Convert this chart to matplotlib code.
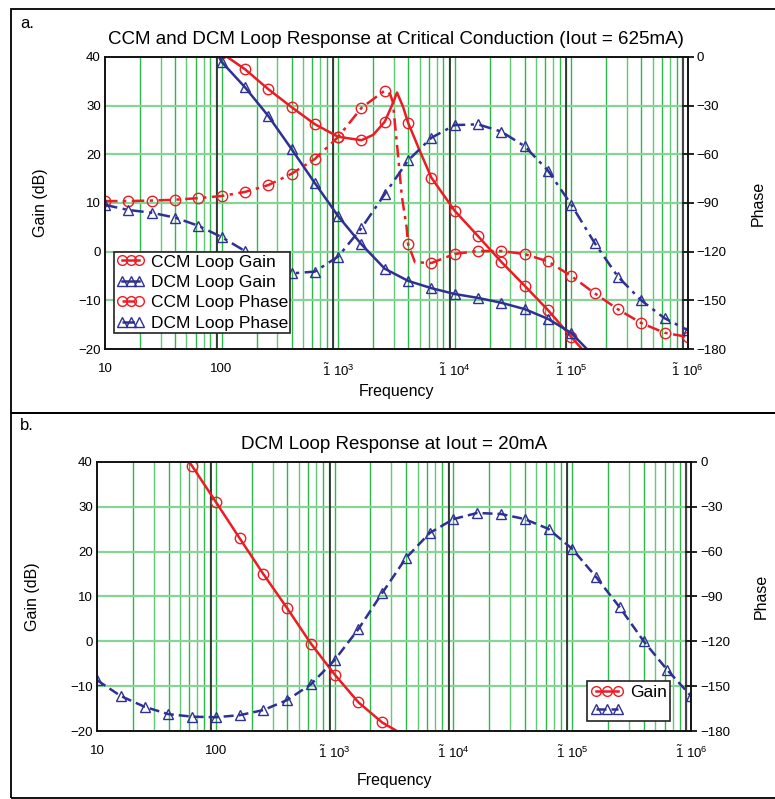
import matplotlib
matplotlib.use("Agg")
import matplotlib.pyplot as plt
from matplotlib.lines import Line2D
from matplotlib.patches import Rectangle
import numpy as np

plt.rcParams['font.family'] = ['Liberation Sans', 'DejaVu Sans']
plt.rcParams['mathtext.fontset'] = 'custom'
plt.rcParams['mathtext.rm'] = 'Liberation Sans'
plt.rcParams['mathtext.it'] = 'Liberation Sans'

# ---- panel a: CCM and DCM at critical conduction ----
ccm_gain_f = [100, 158.5, 251.2, 398.1, 631, 1000, 1585, 2000, 2512, 2950, 3200, 3600, 3981,
              5000, 6310, 10000, 15850, 25120, 39810, 63100, 100000, 130000]
ccm_gain_db = [40.8, 37.5, 33.4, 29.7, 26.2, 23.6, 22.9, 24.0, 26.7, 30.5, 32.7, 29.8, 26.5,
               20.8, 15.2, 8.4, 3.2, -2.1, -7.0, -12.0, -17.5, -20.6]

dcm_gain_f = [95, 100, 158.5, 251.2, 398.1, 631, 1000, 1585, 2512, 3981, 6310, 10000,
              15850, 25120, 39810, 63100, 100000, 140000]
dcm_gain_db = [40.0, 39.0, 33.8, 27.9, 21.1, 14.1, 7.3, 1.5, -3.5, -6.0, -7.5, -8.7,
               -9.5, -10.5, -11.8, -13.8, -16.7, -20.3]

ccm_phase_f = [10, 15.85, 25.12, 39.81, 63.1, 100, 158.5, 251.2, 398.1, 631, 1000, 1585, 2512,
               2800, 2950, 3050, 3250, 3520, 3870, 3981, 4560, 6310, 10000, 15850, 25120,
               39810, 63100, 100000, 158500, 251200, 398100, 631000, 1000000]
ccm_phase_deg = [-88.8, -88.8, -88.5, -88.0, -87.0, -85.7, -83.2, -79.0, -72.0, -62.9, -49.3,
                 -31.4, -20.7, -23.0, -28.0, -39.0, -59.0, -86.0, -105.0, -115.3, -126.5, -127.0,
                 -121.4, -119.6, -119.6, -121.5, -126.0, -135.0, -145.6, -155.5, -164.0,
                 -170.0, -172.6]

dcm_phase_f = [10, 15.85, 25.12, 39.81, 63.1, 100, 158.5, 251.2, 398.1, 631, 1000, 1585, 2512,
               3981, 6310, 10000, 15850, 25120, 39810, 63100, 100000, 158500, 251200, 398100,
               631000, 1000000]
dcm_phase_deg = [-91.2, -94.3, -96.0, -99.0, -104.0, -111.0, -119.6, -128.0, -133.4, -132.3,
                 -123.0, -105.5, -84.5, -63.8, -49.8, -42.0, -41.5, -46.0, -55.0, -70.0, -91.0,
                 -114.6, -135.4, -150.0, -161.0, -168.4]

# ---- panel b: DCM at Iout = 20mA ----
b_gain_f = [56, 63.1, 100, 158.5, 251.2, 398.1, 631, 1000, 1585, 2512, 3600]
b_gain_db = [41.0, 39.1, 31.1, 23.0, 15.0, 7.4, -0.5, -7.4, -13.6, -18.1, -20.5]

b_phase_f = dcm_phase_f
b_phase_deg = [-146.0, -156.6, -163.8, -168.7, -170.4, -170.8, -169.4, -166.0, -159.3, -148.8,
               -132.5, -111.8, -87.7, -64.3, -47.5, -38.2, -34.1, -34.8, -38.2, -44.8, -58.2,
               -76.9, -97.3, -119.8, -139.2, -156.6]

red = '#ed1c24'
blue = '#2e3192'
green = '#2eb84a'
lightgreen = '#86d596'
dashdot = (0, (5, 2.2, 1.3, 2.2))
dashed = (0, (4, 2))


def marks(f):
    # markers only at the 0.2-decade sample points
    k = np.log10(np.array(f)) * 5
    return [i for i in range(len(f)) if abs(k[i] - round(k[i])) < 0.02]


def setup(ax, ax2):
    ax.set_xscale('log')
    ax.set_xlim(10, 1e6)
    ax.set_ylim(-20, 40)
    ax2.set_ylim(-180, 0)
    ax.set_yticks([-20, -10, 0, 10, 20, 30, 40])
    ax.set_yticklabels(['\u221220', '\u221210', '0', '10', '20', '30', '40'], fontsize=9.5)
    ax2.set_yticks(range(-180, 1, 30))
    ax2.set_yticklabels(['\u2212180', '\u2212150', '\u2212120', '\u221290', '\u221260',
                         '\u221230', '0'], fontsize=9.5)
    ax.tick_params(axis='y', length=0, pad=3)
    ax2.tick_params(axis='y', direction='inout', length=9, width=1.4, color='#222', pad=2)
    ax.set_xticks([10, 100, 1e3, 1e4, 1e5, 1e6])
    ax.set_xticklabels(['10', '100', r'$\tilde{1}\ 10^{3}$', r'$\tilde{1}\ 10^{4}$',
                        r'$\tilde{1}\ 10^{5}$', r'$\tilde{1}\ 10^{6}$'], fontsize=9.5)
    ax.xaxis.set_minor_locator(matplotlib.ticker.NullLocator())
    ax.tick_params(axis='x', length=0, pad=10)
    for d in [10, 100, 1e3, 1e4, 1e5]:
        for m in range(2, 11):
            ax.axvline(d * m, color=green, lw=1.0, alpha=0.75 if m % 2 else 1.0, zorder=0)
        if d >= 100:
            ax.axvline(d * 0.91, color='#222', lw=1.2, zorder=0.5)
    ax.axvline(1e6 * 0.91, color='#444', lw=1.5, zorder=0.5)
    for g in [-10, 0, 10, 20, 30]:
        ax.axhline(g, color=lightgreen, lw=1.6, zorder=0)
    for s in list(ax.spines.values()) + list(ax2.spines.values()):
        s.set_linewidth(1.2)
        s.set_color('#111')
    ax.set_ylabel('Gain (dB)', fontsize=11.5, labelpad=22)
    ax2.set_ylabel('Phase', fontsize=11.5, labelpad=17)
    ax.set_xlabel('Frequency', fontsize=11.5, labelpad=4)


fig = plt.figure(figsize=(7.75, 7.99), dpi=100)

# panel a
ax = fig.add_axes([0.1355, 0.5632, 0.752, 0.3655])
ax2 = ax.twinx()
setup(ax, ax2)
ax.plot(ccm_gain_f, ccm_gain_db, color=red, lw=1.8, marker='o', mfc='none', ms=7.5, mew=1.0,
        markevery=marks(ccm_gain_f), clip_on=True, zorder=3)
ax.plot(dcm_gain_f, dcm_gain_db, color=blue, lw=1.8, marker='^', mfc='none', ms=7, mew=1.0,
        markevery=marks(dcm_gain_f), zorder=3)
ax2.plot(ccm_phase_f, ccm_phase_deg, color=red, lw=1.8, ls=dashdot, marker='o', mfc='none',
         ms=7.5, mew=1.0, markevery=marks(ccm_phase_f))
ax2.plot(dcm_phase_f, dcm_phase_deg, color=blue, lw=1.8, ls=dashdot, marker='^', mfc='none',
         ms=7, mew=1.0, markevery=marks(dcm_phase_f))
handles = [
    Line2D([], [], color=red, lw=1.8, marker='o', mfc='none', ms=7, mew=1.0),
    Line2D([], [], color=blue, lw=1.8, marker='^', mfc='none', ms=6.5, mew=1.0),
    Line2D([], [], color=red, lw=1.8, ls=dashdot, marker='o', mfc='none', ms=7, mew=1.0),
    Line2D([], [], color=blue, lw=1.8, ls=dashdot, marker='^', mfc='none', ms=6.5, mew=1.0),
]
leg = ax2.legend(handles, ['CCM Loop Gain', 'DCM Loop Gain', 'CCM Loop Phase', 'DCM Loop Phase'],
                 loc='upper left', bbox_to_anchor=(0.0155, 0.333), numpoints=3, fontsize=12.5,
                 handlelength=1.6, handletextpad=0.35, labelspacing=0.3, borderpad=0.15,
                 borderaxespad=0, fancybox=False, framealpha=1, edgecolor='#222')
leg.get_frame().set_linewidth(1.2)
ax.set_title('CCM and DCM Loop Response at Critical Conduction (Iout = 625mA)', fontsize=13.5,
             pad=9)

# panel b
bx = fig.add_axes([0.1252, 0.0851, 0.7665, 0.3367])
bx2 = bx.twinx()
setup(bx, bx2)
bx.plot(b_gain_f, b_gain_db, color=red, lw=1.8, marker='o', mfc='none', ms=7.5, mew=1.0,
        markevery=marks(b_gain_f), zorder=3)
bx2.plot(b_phase_f, b_phase_deg, color=blue, lw=1.8, ls=dashed, marker='^', mfc='none', ms=7,
         mew=1.0, markevery=marks(b_phase_f))
handles_b = [
    Line2D([], [], color=red, lw=1.8, marker='o', mfc='none', ms=7, mew=1.0),
    Line2D([], [], color=blue, lw=1.8, ls=dashed, marker='^', mfc='none', ms=6.5, mew=1.0),
]
legb = bx2.legend(handles_b, ['Gain', ' '], loc='upper left', bbox_to_anchor=(0.825, 0.185),
                  numpoints=3, fontsize=12.5, handlelength=1.9, handletextpad=0.35,
                  labelspacing=0.15, borderpad=0.2, borderaxespad=0, fancybox=False,
                  framealpha=1, edgecolor='#222')
legb.get_frame().set_linewidth(1.2)
bx.set_title('DCM Loop Response at Iout = 20mA', fontsize=13.5, pad=9)
bx.xaxis.set_label_coords(0.5, -0.155)
ax.xaxis.set_label_coords(0.5, -0.12)

# panel frames and letters
fig.add_artist(Rectangle((11 / 775, 1 - 413 / 799), 1, 404 / 799, transform=fig.transFigure,
                         fill=False, lw=1.3, ec='black'))
fig.add_artist(Rectangle((11 / 775, 0.0015), 1, 1 - 413 / 799 - 0.0015,
                         transform=fig.transFigure, fill=False, lw=1.3, ec='black'))
fig.text(20 / 775, 1 - 24 / 799, 'a.', fontsize=12, va='center')
fig.text(20 / 775, 1 - 425 / 799, 'b.', fontsize=12, va='center')

fig.savefig('out.png', dpi=100)
